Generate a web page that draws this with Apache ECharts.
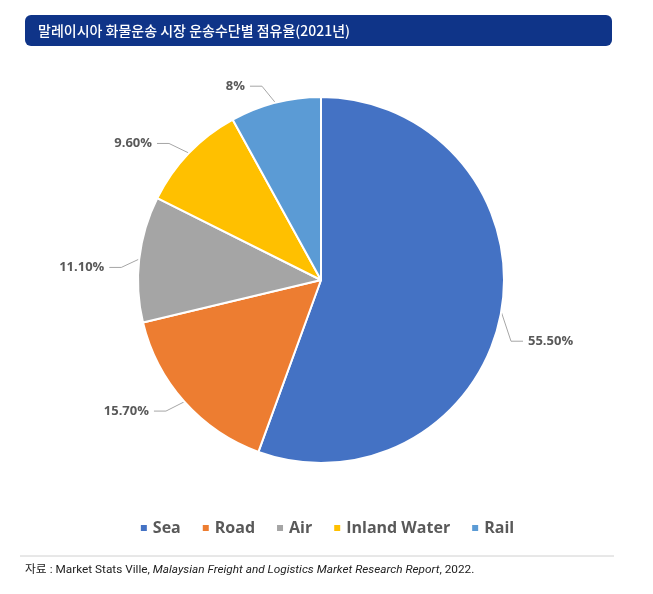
<!DOCTYPE html>
<html>
<head>
<meta charset="utf-8">
<script src="https://cdn.jsdelivr.net/npm/echarts@6/dist/echarts.min.js"></script>
<style>
  html, body { margin: 0; padding: 0; background: #fff; }
  #chart { width: 653px; height: 594px; }
</style>
</head>
<body>
<div id="chart"></div>
<script>
// 운송수단별 점유율 (2021)
const modes = ['Sea', 'Road', 'Air', 'Inland Water', 'Rail']
const shares = [55.5, 15.7, 11.1, 9.6, 8]
const shareLabels = ['55.50%', '15.70%', '11.10%', '9.60%', '8%']
const colors = ['#4472C4', '#ED7D31', '#A5A5A5', '#FFC000', '#5B9BD5']

const titleText = '말레이시아 화물운송 시장 운송수단별 점유율(2021년)'

// small nudges so the labels sit where the original leader lines put them
const labelNudge = [[-4, 27], [-8, 0], [-4, 10], [-10, 0], [-10, -3]]

let oChart = echarts.init(document.getElementById('chart'))

function nudgeLabel(p) {
  let d = labelNudge[p.dataIndex]
  let out = { dx: d[0], dy: d[1] }
  if (p.labelLinePoints) {
    // keep the start on the slice edge, move the rest with the label
    out.labelLinePoints = p.labelLinePoints.map((pt, k) =>
      k === 0 ? [pt[0], pt[1]] : [pt[0] + d[0], pt[1] + d[1]])
  }
  return out
}

let option = {
  animation: false,
  color: colors,
  graphic: [
    {
      type: 'rect',
      shape: { x: 25, y: 15, width: 587, height: 31, r: 6 },
      style: { fill: '#0F3488' }
    },
    {
      type: 'text',
      x: 38, y: 31,
      style: {
        text: titleText,
        fill: '#fff',
        font: '500 14px "Noto Sans CJK KR"',
        verticalAlign: 'middle'
      }
    },
    {
      type: 'line',
      shape: { x1: 20, y1: 556, x2: 614, y2: 556 },
      style: { stroke: '#D0D0D0', lineWidth: 1 }
    },
    {
      type: 'text',
      x: 25, y: 570,
      style: {
        text: '{n|자료 : Market Stats Ville, }{i|Malaysian Freight and Logistics Market Research Report}{n|, 2022.}',
        verticalAlign: 'middle',
        rich: {
          n: { fontFamily: 'Roboto, "Noto Sans CJK KR"', fontSize: 11.8, fill: '#222' },
          i: { fontFamily: 'Roboto', fontStyle: 'italic', fontSize: 11.8, fill: '#222' }
        }
      }
    }
  ],
  legend: {
    data: modes,
    bottom: 53,
    left: 'center',
    icon: 'rect',
    itemWidth: 8,
    itemHeight: 8,
    itemGap: 20,
    textStyle: { color: '#595959', fontSize: 16, fontWeight: 'bold', fontFamily: '"Open Sans", sans-serif' }
  },
  series: [
    {
      type: 'pie',
      center: [321, 280],
      radius: 183,
      startAngle: 90,
      clockwise: true,
      avoidLabelOverlap: false,
      itemStyle: { borderColor: '#fff', borderWidth: 2 },
      label: {
        show: true,
        position: 'outside',
        color: '#595959',
        fontSize: 13,
        fontWeight: 'bold',
        fontFamily: '"Open Sans", sans-serif',
        formatter: p => shareLabels[p.dataIndex]
      },
      labelLine: {
        show: true,
        length: 14,
        length2: 12,
        lineStyle: { color: '#A6A6A6', width: 1 }
      },
      labelLayout: nudgeLabel,
      emphasis: { disabled: true },
      data: modes.map((m, i) => ({ name: m, value: shares[i] }))
    }
  ]
}

oChart.setOption(option)
</script>
</body>
</html>
